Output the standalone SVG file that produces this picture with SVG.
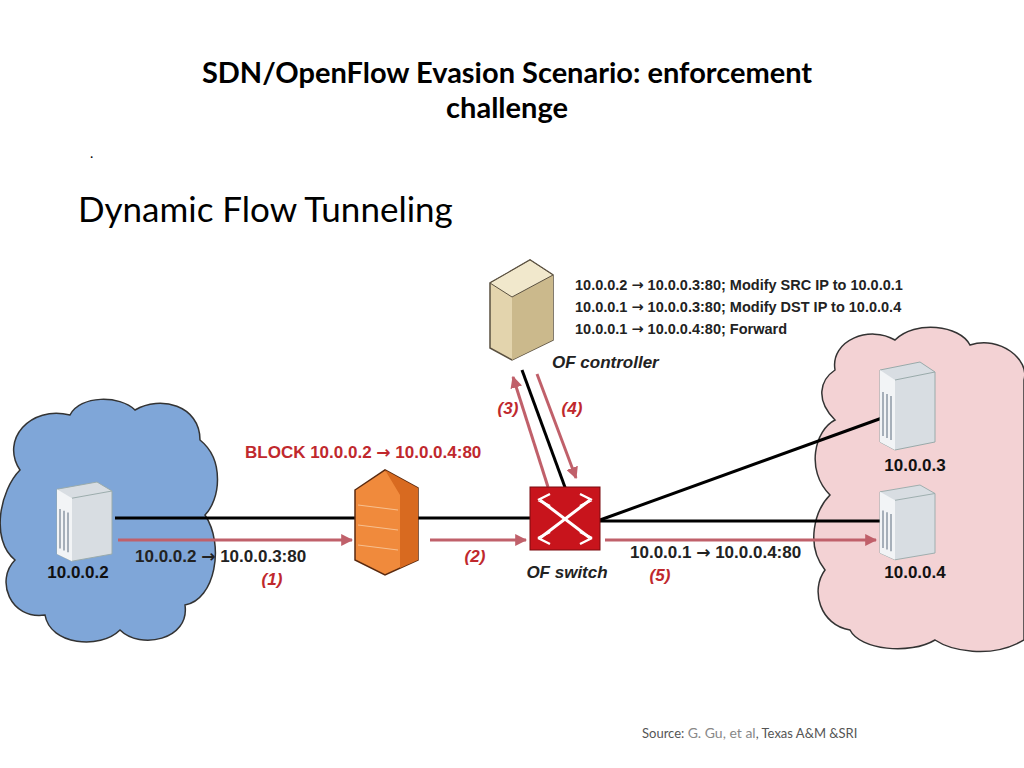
<svg xmlns="http://www.w3.org/2000/svg" width="1024" height="768" viewBox="0 0 1024 768">
<defs>
<style>
.t{font-family:Lato,"Open Sans","Liberation Sans",sans-serif}
.b{font-family:"Liberation Sans",sans-serif;font-weight:bold}
.ar{font-family:"DejaVu Sans",sans-serif;font-weight:bold}
.red{fill:#c0282d}
.it{font-style:italic}
.blk{stroke:#000;stroke-width:3;fill:none}
.rar{stroke:#c0606a;stroke-width:3;fill:none;marker-end:url(#ah)}
</style>
<marker id="ah" viewBox="0 0 10 10" refX="9" refY="5" markerWidth="4" markerHeight="4" orient="auto"><path d="M0,0L10,5L0,10z" fill="#c0606a"/></marker>
<g id="srv">
<path d="M0,8 L40,0 L55,10 L55,80 L15,88 L0,80 Z" fill="#d8dde2" stroke="#9aa" stroke-width="1"/>
<path d="M0,8 L15,18 L15,88 L0,80Z" fill="#f2f4f6"/>
<path d="M15,18 L55,10" stroke="#9aa"/>
<g stroke="#8c98a4" stroke-width="1.5"><line x1="3" y1="30" x2="3" y2="74"/><line x1="7" y1="32" x2="7" y2="76"/><line x1="11" y1="34" x2="11" y2="78"/></g>
</g>
</defs>
<rect width="1024" height="768" fill="#fff"/>
<text class="t" x="507" y="83" font-size="29" font-weight="bold" text-anchor="middle">SDN/OpenFlow Evasion Scenario: enforcement</text>
<text class="t" x="507" y="118" font-size="29" font-weight="bold" text-anchor="middle">challenge</text>
<text class="t" x="90" y="158" font-size="14">.</text>
<text class="t" x="78" y="222" font-size="35">Dynamic Flow Tunneling</text>

<g id="cloud-left">
<path d="M20,470 C0,440 30,405 70,415 C80,395 120,395 135,410 C160,395 200,405 200,440 C225,460 220,500 205,515 C225,545 215,600 185,605 C190,640 140,650 120,630 C100,650 50,645 45,615 C10,620 -5,580 15,560 C-10,540 0,490 20,470Z" fill="#7fa6d8" stroke="#333" stroke-width="1.5"/>
</g>
<g id="cloud-right">
<path d="M835,370 C830,340 870,325 895,340 C915,320 960,325 970,345 C1000,335 1030,360 1024,380 L1024,640 C990,660 950,650 935,640 C910,655 860,650 850,630 C820,625 810,590 825,570 C805,545 815,510 830,495 C805,470 815,430 835,420 C815,400 820,380 835,370Z" fill="#f3d2d4" stroke="#333" stroke-width="1.5"/>
</g>

<g id="connectors">
<line class="blk" x1="115" y1="518" x2="530" y2="518"/>
<line class="blk" x1="600" y1="521" x2="880" y2="521"/>
<line class="blk" x1="600" y1="520" x2="882" y2="418"/>
<line class="blk" x1="522" y1="370" x2="566" y2="490"/>
<line class="rar" x1="118" y1="540" x2="352" y2="540"/>
<line class="rar" x1="430" y1="540" x2="526" y2="540"/>
<line class="rar" x1="605" y1="540" x2="876" y2="540"/>
<line class="rar" x1="548" y1="487" x2="513" y2="377"/>
<line class="rar" x1="537" y1="374" x2="576" y2="478"/>
</g>

<g id="host-10-0-0-2"><use href="#srv" transform="translate(57,482) scale(1,0.9)"/>
<text class="b" x="78" y="578" font-size="17" text-anchor="middle" fill="#111">10.0.0.2</text></g>
<g id="host-10-0-0-3"><use href="#srv" transform="translate(880,362)"/>
<text class="b" x="915" y="471" font-size="17" text-anchor="middle" fill="#111">10.0.0.3</text></g>
<g id="host-10-0-0-4"><use href="#srv" transform="translate(880,485) scale(1,0.85)"/>
<text class="b" x="915" y="578" font-size="17" text-anchor="middle" fill="#111">10.0.0.4</text></g>

<g id="firewall">
<path d="M355,490 L385,470 L418,488 L418,560 L385,575 L355,560Z" fill="#f08a3c" stroke="#5a2a10" stroke-width="1.5"/>
<path d="M385,470 L418,488 L418,560 L400,568 L400,495Z" fill="#d86a20"/>
<g stroke="#f7c090" stroke-width="1"><line x1="358" y1="505" x2="398" y2="510"/><line x1="358" y1="525" x2="398" y2="530"/><line x1="358" y1="545" x2="398" y2="550"/></g>
</g>
<text class="b red" x="245" y="458" font-size="17">BLOCK 10.0.0.2 <tspan class="ar">→</tspan> 10.0.0.4:80</text>

<g id="of-switch">
<rect x="530" y="487" width="70" height="63" fill="#c8141c" stroke="#7a0a0e"/>
<path d="M540,500 L590,538 M590,500 L540,538" stroke="#fff" stroke-width="3" fill="none"/>
<path d="M538,500 L550,494 M538,500 L550,506 M592,500 L580,494 M592,500 L580,506 M538,538 L550,532 M538,538 L550,544 M592,538 L580,532 M592,538 L580,544" stroke="#fff" stroke-width="2.5"/>
<text class="b it" x="567" y="578" font-size="17" text-anchor="middle" fill="#222">OF switch</text>
</g>

<g id="of-controller">
<path d="M490,283 L530,260 L553,275 L553,340 L512,360 L490,348Z" fill="#e3d4ad" stroke="#5a5040" stroke-width="1.5"/>
<path d="M512,297 L553,275 L553,340 L512,360Z" fill="#cbb98c"/>
<path d="M490,283 L530,260 L553,275 L512,297Z" fill="#f1e8cc" stroke="#5a5040"/>
<text class="b it" x="552" y="368" font-size="17" fill="#222">OF controller</text>
</g>
<g class="b" font-size="14.5" fill="#222">
<text x="575" y="290">10.0.0.2 <tspan class="ar">→</tspan> 10.0.0.3:80;  Modify SRC IP to 10.0.0.1</text>
<text x="575" y="312">10.0.0.1 <tspan class="ar">→</tspan> 10.0.0.3:80;  Modify DST IP to 10.0.0.4</text>
<text x="575" y="334">10.0.0.1 <tspan class="ar">→</tspan> 10.0.0.4:80;  Forward</text>
</g>

<text class="b" x="135" y="562" font-size="17" fill="#222">10.0.0.2 <tspan class="ar">→</tspan> 10.0.0.3:80</text>
<text class="b red it" x="272" y="585" font-size="17" text-anchor="middle">(1)</text>
<text class="b red it" x="475" y="562" font-size="17" text-anchor="middle">(2)</text>
<text class="b red it" x="508" y="414" font-size="17" text-anchor="middle">(3)</text>
<text class="b red it" x="572" y="414" font-size="17" text-anchor="middle">(4)</text>
<text class="b" x="630" y="558" font-size="17" fill="#222">10.0.0.1 <tspan class="ar">→</tspan> 10.0.0.4:80</text>
<text class="b red it" x="660" y="581" font-size="17" text-anchor="middle">(5)</text>

<text class="t" x="642" y="738" font-size="13" fill="#555">Source: <tspan fill="#888" font-size="14">G. Gu, et al</tspan>, Texas A&amp;M &amp;SRI</text>
</svg>
